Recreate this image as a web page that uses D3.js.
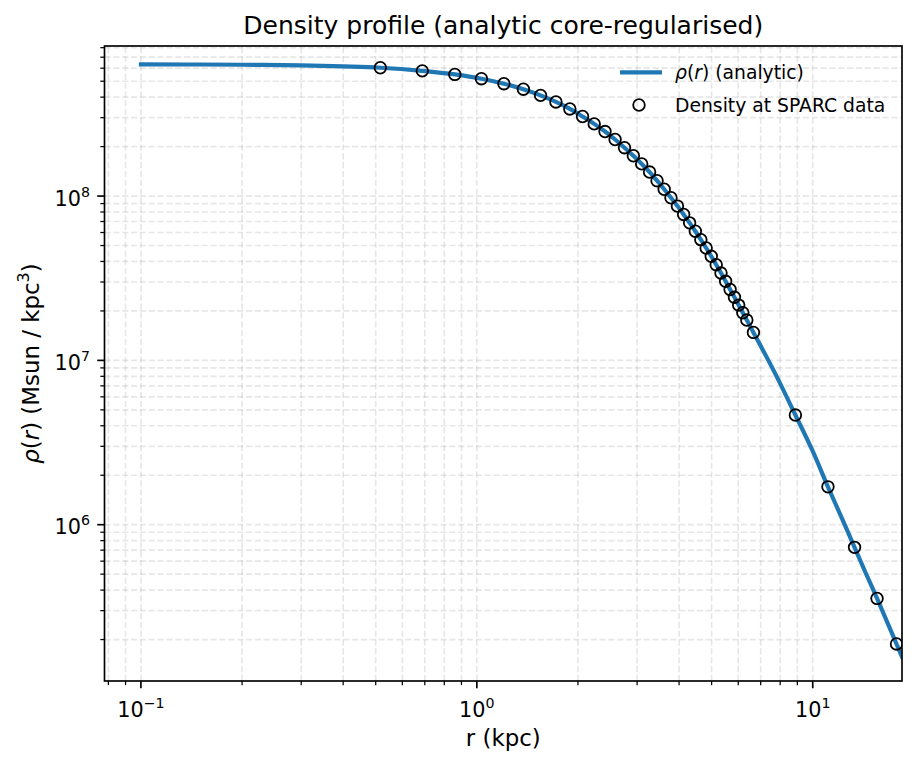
<!DOCTYPE html>
<html><head><meta charset="utf-8">
<script src="https://cdn.jsdelivr.net/npm/d3@7"></script>
<style>body{margin:0;background:#fff} svg{display:block} text{font-family:"DejaVu Sans",sans-serif;fill:#000}</style>
</head><body><svg id="c" width="917" height="767"></svg>
<script>
// ---- data ----
const sparcR = [0.516, 0.688, 0.86, 1.032, 1.204, 1.376, 1.548, 1.72, 1.892, 2.064,
  2.236, 2.408, 2.58, 2.752, 2.924, 3.096, 3.268, 3.44, 3.612, 3.784,
  3.956, 4.128, 4.30, 4.472, 4.644, 4.816, 4.988, 5.16, 5.332, 5.504,
  5.676, 5.848, 6.02, 6.192, 6.364, 6.66, 8.88, 11.1, 13.32, 15.54, 17.76];
const sparcRho = [6.04e8, 5.78e8, 5.50e8, 5.18e8, 4.83e8, 4.47e8, 4.10e8, 3.74e8, 3.39e8, 3.05e8,
  2.75e8, 2.47e8, 2.21e8, 1.97e8, 1.76e8, 1.57e8, 1.40e8, 1.24e8, 1.10e8, 9.77e7,
  8.69e7, 7.73e7, 6.87e7, 6.11e7, 5.43e7, 4.83e7, 4.30e7, 3.82e7, 3.40e7, 3.03e7,
  2.70e7, 2.42e7, 2.17e7, 1.95e7, 1.76e7, 1.48e7, 4.65e6, 1.70e6, 7.28e5, 3.56e5, 1.88e5];
const curveR = [0.1, 0.15, 0.2, 0.3, 0.4, 0.516, 0.688, 0.86, 1.032, 1.204, 1.376, 1.548, 1.72,
  1.892, 2.064, 2.236, 2.408, 2.58, 2.752, 2.924, 3.096, 3.268, 3.44, 3.612, 3.784, 3.956,
  4.128, 4.30, 4.472, 4.644, 4.816, 4.988, 5.16, 5.332, 5.504, 5.676, 5.848, 6.02, 6.192,
  6.364, 6.66, 7.7, 8.88, 10.0, 11.1, 12.2, 13.32, 14.4, 15.54, 16.6, 17.76, 18.44];
const curveRho = [6.33e8, 6.32e8, 6.30e8, 6.24e8, 6.15e8, 6.04e8, 5.78e8, 5.50e8, 5.18e8, 4.83e8, 4.47e8, 4.10e8, 3.74e8,
  3.39e8, 3.05e8, 2.75e8, 2.47e8, 2.21e8, 1.97e8, 1.76e8, 1.57e8, 1.40e8, 1.24e8, 1.10e8, 9.77e7, 8.69e7,
  7.73e7, 6.87e7, 6.11e7, 5.43e7, 4.83e7, 4.30e7, 3.82e7, 3.40e7, 3.03e7, 2.70e7, 2.42e7, 2.17e7, 1.95e7,
  1.76e7, 1.48e7, 8.45e6, 4.65e6, 2.80e6, 1.70e6, 1.10e6, 7.28e5, 5.05e5, 3.56e5, 2.60e5, 1.88e5, 1.57e5];
const xDomain = [0.0779, 18.44];
const yDomain = [1.119e5, 8.19e8];
const xMajor = [0.1, 1, 10], xMajorExp = ["\u22121", "0", "1"];
const yMajor = [1e6, 1e7, 1e8], yMajorExp = ["6", "7", "8"];
const titleText = "Density profile (analytic core-regularised)";
const xLabelText = "r (kpc)";
const legendLabels = ["(analytic)", "Density at SPARC data"];

// ---- layout ----
const L = 104.5, R = 902, T = 46, B = 681;
const svg = d3.select("#c");
const x = d3.scaleLog().domain(xDomain).range([L, R]);
const y = d3.scaleLog().domain(yDomain).range([B, T]);
const isMajor = t => Math.abs(Math.log10(t) - Math.round(Math.log10(t))) < 1e-9;
const xt = x.ticks(), yt = y.ticks();

svg.append("defs").append("clipPath").attr("id", "clip")
  .append("rect").attr("x", L).attr("y", T).attr("width", R - L).attr("height", B - T);

// grid
const g = svg.append("g").attr("stroke", "#b0b0b0").attr("stroke-opacity", 0.3)
  .attr("stroke-width", 1.67).attr("stroke-dasharray", "6.17,2.67");
g.selectAll(".gx").data(xt).join("line")
  .attr("x1", d => x(d)).attr("x2", d => x(d)).attr("y1", B).attr("y2", T);
g.selectAll(".gy").data(yt).join("line")
  .attr("y1", d => y(d)).attr("y2", d => y(d)).attr("x1", L).attr("x2", R);

// curve
const pts = curveR.map((r, i) => [x(r), y(curveRho[i])]);
svg.append("path").attr("clip-path", "url(#clip)")
  .attr("d", d3.line().curve(d3.curveMonotoneX)(pts))
  .attr("fill", "none").attr("stroke", "#1f77b4").attr("stroke-width", 4.17)
  .attr("stroke-linecap", "square");

// points
svg.append("g").attr("clip-path", "url(#clip)").selectAll("circle")
  .data(sparcR.map((r, i) => [r, sparcRho[i]])).join("circle")
  .attr("cx", d => x(d[0])).attr("cy", d => y(d[1])).attr("r", 5.8)
  .attr("fill", "none").attr("stroke", "#000").attr("stroke-width", 1.8);

// spines
svg.append("rect").attr("x", L).attr("y", T).attr("width", R - L).attr("height", B - T)
  .attr("fill", "none").attr("stroke", "#000").attr("stroke-width", 1.67);

// ticks
const tk = svg.append("g").attr("stroke", "#000");
tk.selectAll(".tx").data(xt).join("line")
  .attr("x1", d => x(d)).attr("x2", d => x(d)).attr("y1", B)
  .attr("y2", d => B + (isMajor(d) ? 7.29 : 4.17))
  .attr("stroke-width", d => isMajor(d) ? 1.67 : 1.25);
tk.selectAll(".ty").data(yt).join("line")
  .attr("y1", d => y(d)).attr("y2", d => y(d)).attr("x1", L)
  .attr("x2", d => L - (isMajor(d) ? 7.29 : 4.17))
  .attr("stroke-width", d => isMajor(d) ? 1.67 : 1.25);

function pow10(sel, exp, size, supSize, raise) {
  sel.attr("font-size", size);
  sel.append("tspan").text("10");
  sel.append("tspan").attr("font-size", supSize).attr("dy", -raise).text(exp);
}
xMajor.forEach((v, i) => {
  const t = svg.append("text").attr("x", x(v)).attr("y", 716.5).attr("text-anchor", "middle");
  pow10(t, xMajorExp[i], 20.8, 14.2, 9);
});
yMajor.forEach((v, i) => {
  const t = svg.append("text").attr("x", 90).attr("y", y(v) + 9.7).attr("text-anchor", "end");
  pow10(t, yMajorExp[i], 20.8, 14.2, 9);
});

// title & labels
svg.append("text").attr("x", (L + R) / 2).attr("y", 33.5).attr("text-anchor", "middle")
  .attr("font-size", 25).text(titleText);
svg.append("text").attr("x", (L + R) / 2).attr("y", 745.5).attr("text-anchor", "middle")
  .attr("font-size", 22.9).text(xLabelText);
const yl = svg.append("text").attr("transform", `translate(38.5,${(T + B) / 2}) rotate(-90)`)
  .attr("text-anchor", "middle").attr("font-size", 22.9);
yl.append("tspan").attr("font-style", "italic").text("\u03c1");
yl.append("tspan").text("(");
yl.append("tspan").attr("font-style", "italic").text("r");
yl.append("tspan").text(") (Msun / kpc");
yl.append("tspan").attr("font-size", 16).attr("dy", -10).text("3");
yl.append("tspan").attr("dy", 10).text(")");

// legend
const lg = svg.append("g");
lg.append("line").attr("x1", 620).attr("x2", 662).attr("y1", 72.3).attr("y2", 72.3)
  .attr("stroke", "#1f77b4").attr("stroke-width", 4.17);
const l1 = lg.append("text").attr("x", 675).attr("y", 78.8).attr("font-size", 18.75);
l1.append("tspan").attr("font-style", "italic").text("\u03c1");
l1.append("tspan").text("(");
l1.append("tspan").attr("font-style", "italic").text("r");
l1.append("tspan").text(") " + legendLabels[0]);
lg.append("circle").attr("cx", 639).attr("cy", 105).attr("r", 5.8)
  .attr("fill", "none").attr("stroke", "#000").attr("stroke-width", 1.8);
lg.append("text").attr("x", 675).attr("y", 111.5).attr("font-size", 18.75).text(legendLabels[1]);
</script></body></html>
